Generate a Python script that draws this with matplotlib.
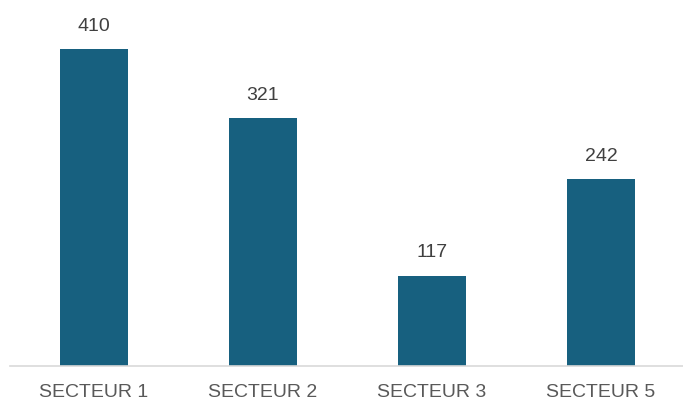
import matplotlib
matplotlib.use("Agg")
import matplotlib.pyplot as plt

# data
categories = ["SECTEUR 1", "SECTEUR 2", "SECTEUR 3", "SECTEUR 5"]
values = [410, 321, 117, 242]

plt.rcParams['font.family'] = ['Liberation Sans', 'DejaVu Sans']

fig = plt.figure(figsize=(6.83, 4.10), dpi=100)
ax = fig.add_axes([9.5/683, 43/410, 676/683, 367/410])

x = range(len(categories))
bars = ax.bar(x, values, width=0.40, color="#17607F", zorder=2)

for b, v in zip(bars, values):
    ax.annotate(str(v), (b.get_x() + b.get_width()/2, v), xytext=(0, 11),
                textcoords="offset points", ha="center", va="bottom",
                fontsize=14, color="#404040")

ax.set_xlim(-0.5, len(categories) - 0.5)
ax.set_ylim(0, 474.7)
ax.set_xticks(list(x))
ax.set_xticklabels(categories, fontsize=14, color="#595959")
ax.tick_params(axis="x", length=0, pad=12)
ax.set_yticks([])
for s in ["top", "right", "left"]:
    ax.spines[s].set_visible(False)
ax.spines["bottom"].set_color("#D9D9D9")
ax.spines["bottom"].set_linewidth(1.2)

fig.savefig("out.png", dpi=100)
